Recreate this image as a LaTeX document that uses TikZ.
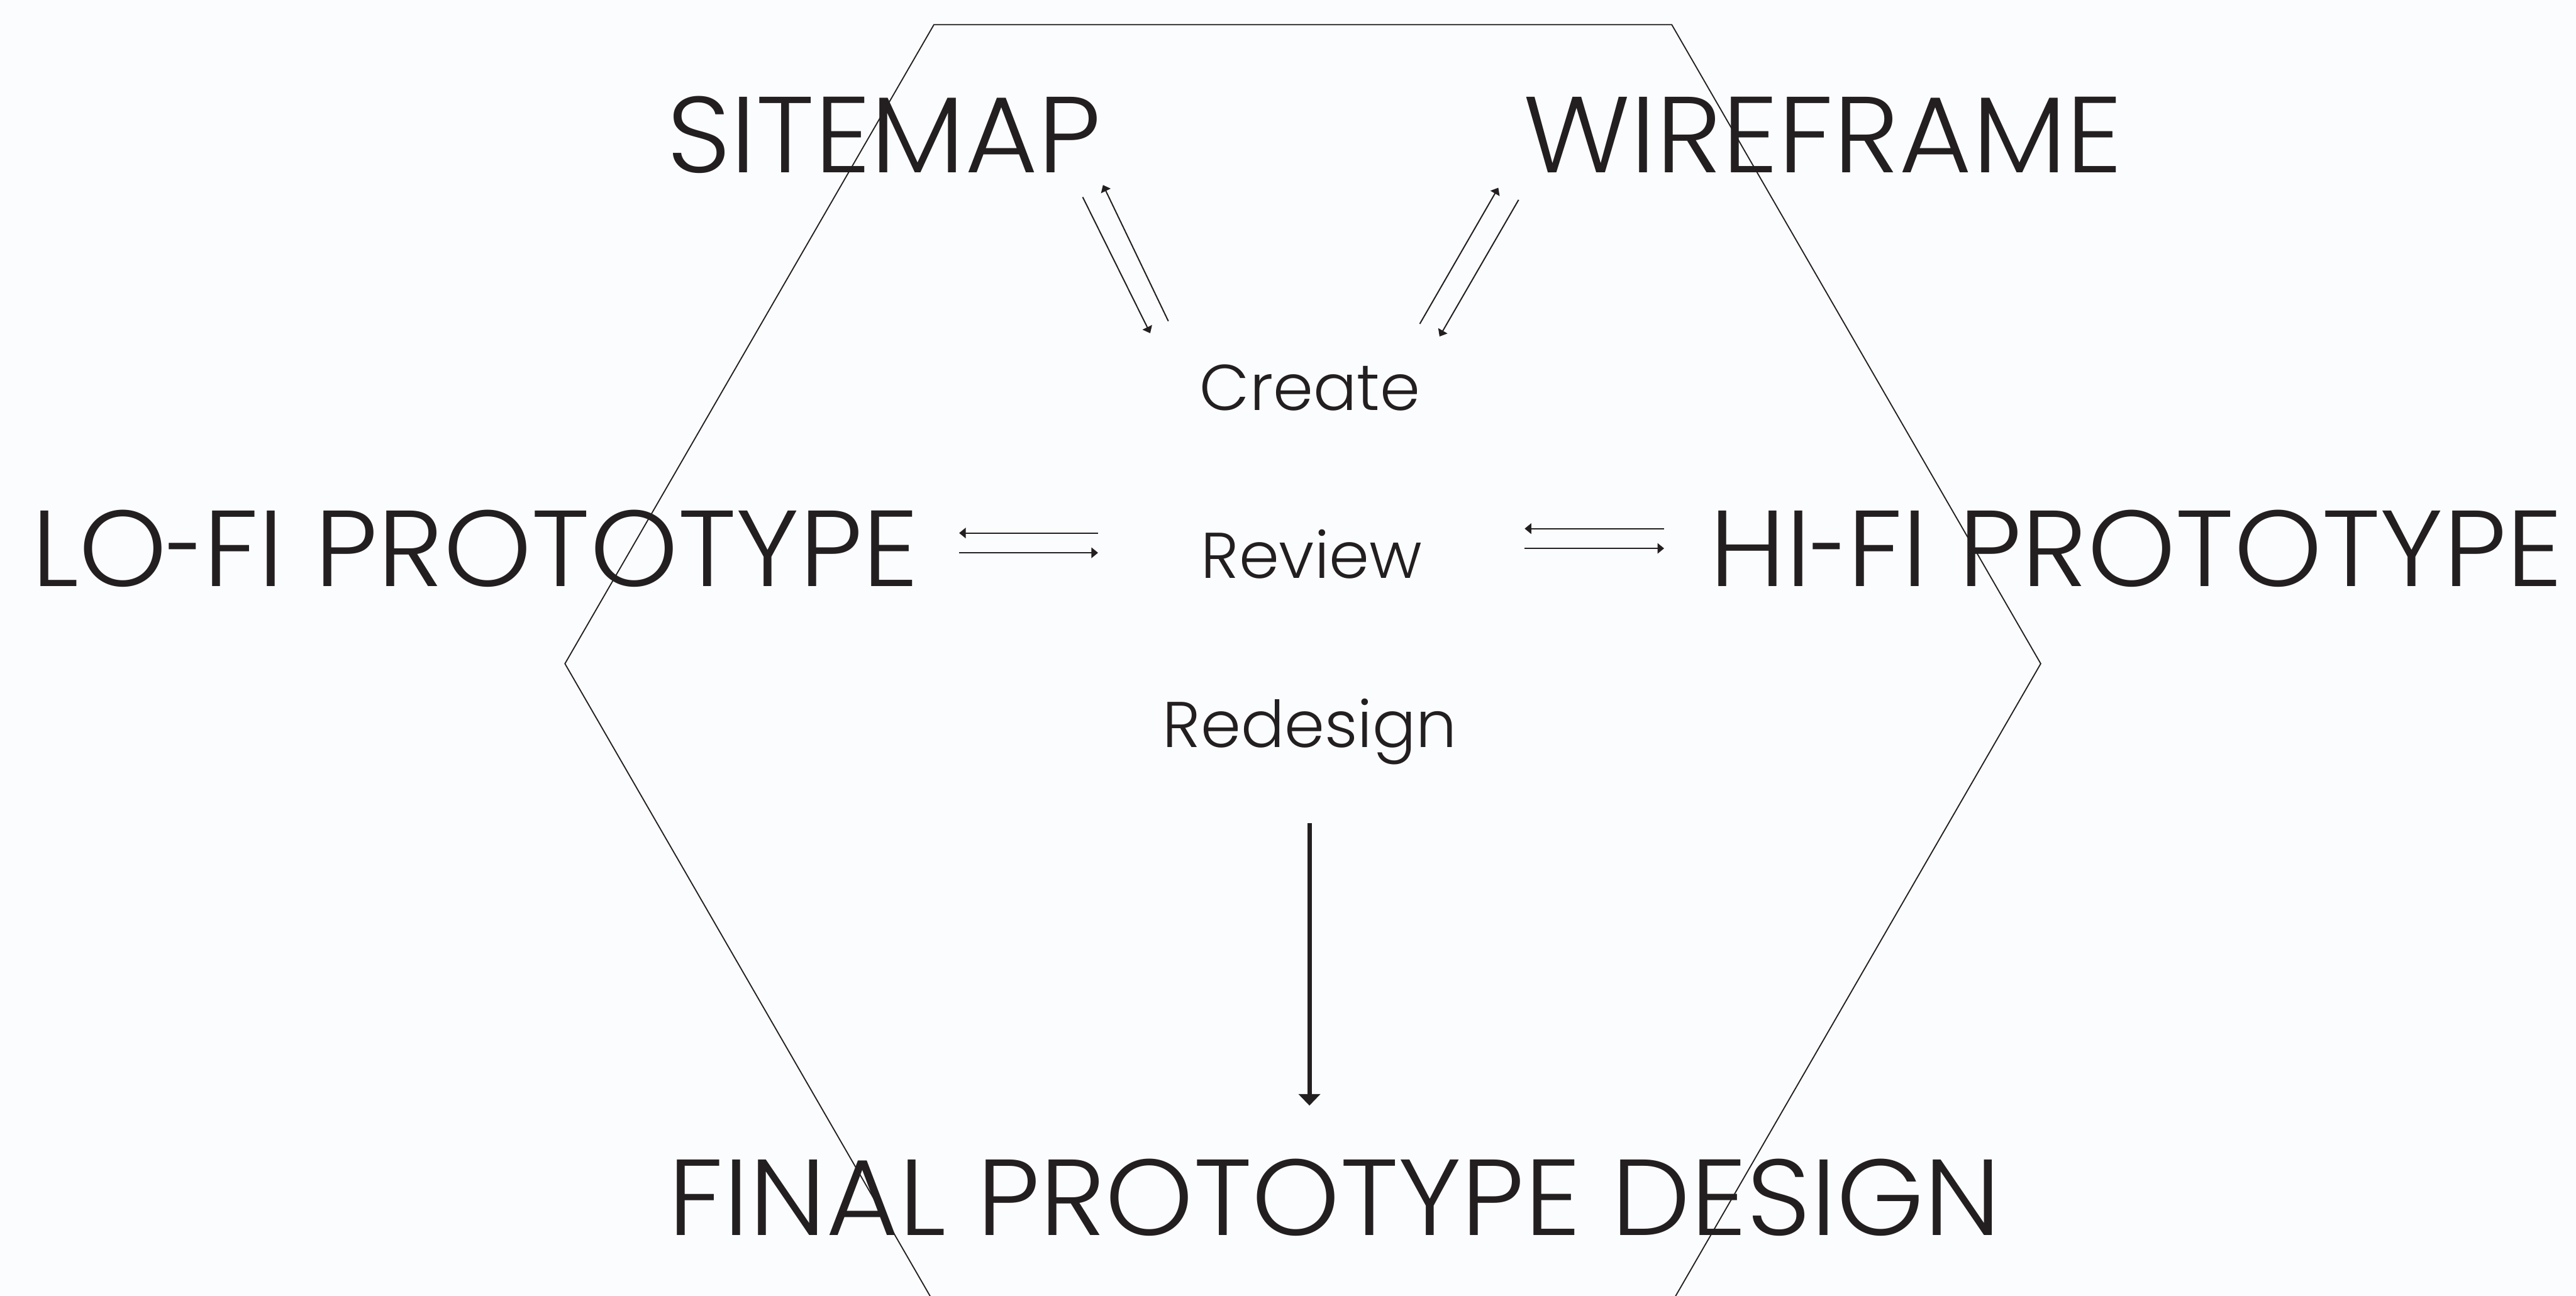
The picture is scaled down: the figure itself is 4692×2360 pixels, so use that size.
\documentclass[tikz,border=0pt]{standalone}
\usepackage{fontspec}
\IfFontExistsTF{Poppins Light}{\setmainfont{Poppins Light}}{\setmainfont{Poppins}}
\usetikzlibrary{arrows.meta}
\definecolor{ink}{HTML}{231F20}
\definecolor{bg}{HTML}{FBFCFE}
\newcommand{\shorthy}{\scalebox{0.62}[1]{-}}
\begin{document}
\begin{tikzpicture}[x=0.1mm,y=-0.1mm,
  big/.style={font=\fontsize{56}{60}\selectfont, text=ink, anchor=base, inner sep=0pt, xscale=1.036, transform shape},
  small/.style={font=\fontsize{33.5}{40}\selectfont, text=ink, anchor=base, inner sep=0pt},
  thinarrow/.style={draw=ink, line width=0.65pt, -{Triangle[length=1.2mm,width=1.9mm]}},
  bigarrow/.style={draw=ink, line width=2.3pt, -{Triangle[length=2.1mm,width=3.9mm]}},
  hexline/.style={draw=ink, line width=0.6pt, line join=miter}
]
\fill[bg] (0,0) rectangle (4692,2360);
\useasboundingbox (0,0) rectangle (4692,2360);
\begin{scope}
\clip (0,0) rectangle (4692,2360);
\draw[hexline] (1029,1209) -- (1701,45) -- (3045,45) -- (3717,1209) -- (3045,2373) -- (1701,2373) -- cycle;
\end{scope}

\node[big] (sitemap) at (1610,314) {SITEMAP};
\node[big] (wireframe) at (3321,314) {WIREFRAME};
\node[big] (lofi) at (866,1068) {LO\shorthy FI PROTOTYPE};
\node[big] (hifi) at (3891,1068) {HI\shorthy FI PROTOTYPE};
\node[big] (final) at (2431,2250) {FINAL PROTOTYPE DESIGN};
\node[small] (create) at (2386,748) {Create};
\node[small] (review) at (2389,1053) {Review};
\node[small] (redesign) at (2386,1361) {Redesign};

% diagonal arrows near SITEMAP
\coordinate (a1s) at (1972,359);
\coordinate (a1e) at (2095,607);
\coordinate (a2s) at (2128,585);
\coordinate (a2e) at (2009,337);
\draw[thinarrow] (a1s) -- (a1e);
\draw[thinarrow] (a2s) -- (a2e);
% diagonal arrows near WIREFRAME
\coordinate (a3s) at (2586,590);
\coordinate (a3e) at (2729,342);
\coordinate (a4s) at (2766,364);
\coordinate (a4e) at (2622,613);
\draw[thinarrow] (a3s) -- (a3e);
\draw[thinarrow] (a4s) -- (a4e);
% horizontal arrows left
\coordinate (l1s) at (2000,971);
\coordinate (l1e) at (1747,971);
\coordinate (l2s) at (1747,1007);
\coordinate (l2e) at (2000,1007);
\draw[thinarrow] (l1s) -- (l1e);
\draw[thinarrow] (l2s) -- (l2e);
% horizontal arrows right
\coordinate (r1s) at (3031,963);
\coordinate (r1e) at (2777,963);
\coordinate (r2s) at (2777,999);
\coordinate (r2e) at (3031,999);
\draw[thinarrow] (r1s) -- (r1e);
\draw[thinarrow] (r2s) -- (r2e);
% big arrow down
\coordinate (ds) at (2385,1500);
\coordinate (de) at (2385,2014);
\draw[bigarrow] (ds) -- (de);
\end{tikzpicture}
\end{document}
